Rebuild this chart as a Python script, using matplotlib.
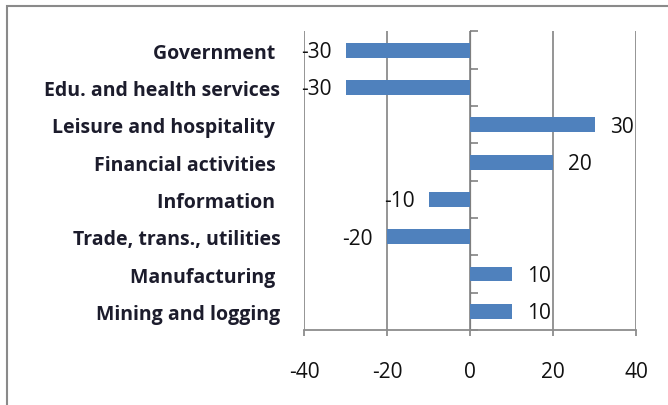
import matplotlib
matplotlib.use("Agg")
import matplotlib.pyplot as plt
from matplotlib.patches import Rectangle
import numpy as np

categories = ["Government ", "Edu. and health services", "Leisure and hospitality ",
              "Financial activities ", "Information ", "Trade, trans., utilities",
              "Manufacturing ", "Mining and logging"]
values = [-30, -30, 30, 20, -10, -20, 10, 10]
xticks = [-40, -20, 0, 20, 40]

W, H = 668, 406
fig = plt.figure(figsize=(W / 100, H / 100), dpi=100)
fig.patch.set_facecolor("white")

# outer chart frame (extends past the image edges)
fig.add_artist(Rectangle((6.5 / W, -0.1), 1.2, 1 - 6.5 / H + 0.1, transform=fig.transFigure,
                         fill=False, edgecolor="#8a8a8a", linewidth=1.5))

ax = fig.add_axes([304 / W, 1 - 331 / H, (636 - 304) / W, (331 - 32.4) / H])
n = len(categories)
ypos = np.arange(n)
bar_color = "#4F81BD"
grid_color = "#8c8c8c"
ax.barh(ypos, values, height=0.4, color=bar_color, zorder=3)
ax.set_ylim(n - 0.5, -0.5)
ax.set_xlim(-40, 40)

for s in ["top", "right", "left"]:
    ax.spines[s].set_visible(False)
ax.spines["bottom"].set_color(grid_color)
ax.spines["bottom"].set_linewidth(1.3)

num_font = dict(fontfamily="Open Sans", fontsize=15, color="#111111")

ax.set_xticks(xticks)
ax.set_xticklabels([str(t) for t in xticks], **num_font)
ax.tick_params(axis="x", direction="out", length=4, width=1.3, color=grid_color, pad=18)
ax.grid(axis="x", color=grid_color, linewidth=1.3, zorder=0)

ax.set_yticks(ypos)
ax.set_yticklabels(categories, fontfamily="Open Sans", fontweight="bold", fontsize=14,
                   color="#1c1c2c")
ax.tick_params(axis="y", length=0, pad=17)

# zero axis line with category boundary ticks
sec = ax.secondary_yaxis(0.5)
sec.set_yticks(np.arange(-0.5, n, 1.0))
sec.set_yticklabels([])
sec.tick_params(axis="y", direction="out", length=6, width=1.3, color=grid_color)
sec.spines["left"].set_color(grid_color)
sec.spines["left"].set_linewidth(1.3)
sec.spines["left"].set_zorder(4)

for y, v in zip(ypos, values):
    off = 11 if v > 0 else -10
    ax.annotate(str(v), xy=(v, y), xytext=(off, -1), textcoords="offset points",
                ha="left" if v > 0 else "right", va="center", zorder=5, **num_font)

fig.savefig("out.png", dpi=100)
